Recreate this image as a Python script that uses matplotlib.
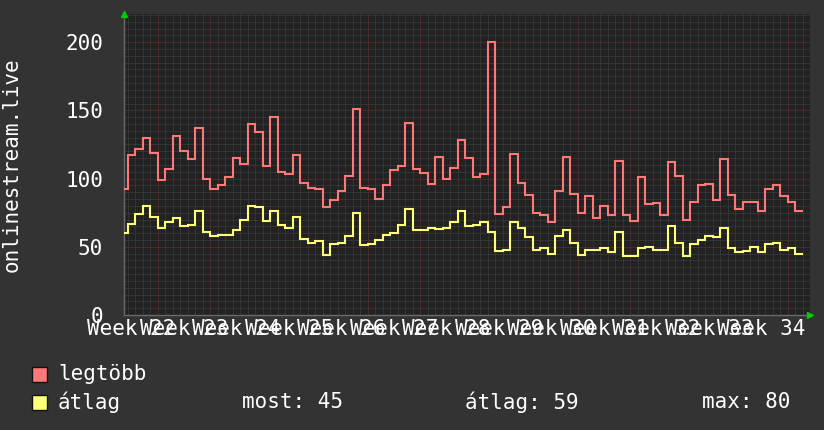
import numpy as np
import matplotlib
matplotlib.use('Agg')
import matplotlib.pyplot as plt
from matplotlib.patches import Rectangle

# daily values (week 22 .. week 34)
legtobb = [92, 117, 122, 130, 119, 99, 107, 131, 120, 114,
           137, 100, 92, 95, 101, 115, 111, 140, 134, 109,
           145, 105, 103, 117, 97, 93, 92, 79, 84, 91,
           102, 151, 93, 92, 85, 95, 106, 109, 141, 107,
           104, 96, 116, 100, 108, 128, 115, 101, 103, 200,
           74, 79, 118, 97, 88, 75, 73, 68, 91, 116,
           89, 75, 87, 71, 80, 73, 113, 73, 69, 101,
           81, 82, 73, 112, 102, 70, 83, 95, 96, 84,
           114, 88, 78, 83, 83, 76, 92, 95, 87, 83, 76]
atlag = [60, 67, 74, 80, 72, 64, 68, 71, 65, 66,
         76, 61, 58, 59, 59, 62, 70, 80, 79, 69,
         76, 66, 64, 72, 56, 53, 54, 44, 52, 53,
         58, 75, 51, 52, 55, 59, 60, 66, 78, 62,
         62, 64, 63, 64, 68, 76, 65, 66, 68, 61,
         47, 48, 68, 64, 57, 48, 49, 45, 58, 62,
         53, 44, 48, 48, 49, 46, 61, 43, 43, 49,
         50, 48, 48, 65, 53, 43, 52, 55, 58, 57,
         64, 49, 46, 47, 50, 46, 52, 53, 48, 49, 45]
week_labels = ['Week %d' % w for w in range(22, 35)]
y_ticks = [0, 50, 100, 150, 200]
legend_stats = ['most: 45', 'átlag: 59', 'max: 80']

BG = '#333333'
CANVAS = '#222222'
RED = '#ff7777'
YEL = '#ffff77'
FONT = 'DejaVu Sans Mono'
FS = 15

fig = plt.figure(figsize=(8.24, 4.30), dpi=100, facecolor=BG)
W, H = 824.0, 430.0
ax = fig.add_axes([124 / W, (H - 315) / H, 686 / W, (315 - 13.5) / H])
ax.set_facecolor(CANVAS)

# x in days counted from start of week 22
edges = np.concatenate([[2.5], np.arange(3, 94)])
ax.set_xlim(2.5, 94.0)
ax.set_ylim(0, 221)

# grid: minor every day / 5 units, major every week / 50 units
for d in np.arange(3, 94):
    if d % 7 != 0:
        ax.axvline(d, color='#444444', lw=0.72, ls=(0, (1, 1)), zorder=1)
for d in np.arange(7, 94, 7):
    ax.axvline(d, color='#703232', lw=0.72, ls=(0, (1, 1)), zorder=1)
for v in np.arange(5, 221, 5):
    if v % 50 != 0:
        ax.axhline(v, color='#444444', lw=0.72, ls=(0, (1, 1)), zorder=1)
for v in y_ticks[1:]:
    ax.axhline(v, color='#703232', lw=0.72, ls=(0, (1, 1)), zorder=1)

ax.stairs(legtobb, edges, baseline=None, color=RED, lw=1.5, zorder=3)
ax.stairs(atlag, edges, baseline=None, color=YEL, lw=1.5, zorder=3)

ax.set_yticks(y_ticks)
ax.set_yticklabels([str(v) for v in y_ticks], fontfamily=FONT, fontsize=FS, color='white')
ax.set_xticks(3.5 + 7 * np.arange(len(week_labels)))
ax.set_xticklabels(week_labels, fontfamily=FONT, fontsize=FS, color='white')
ax.tick_params(axis='y', length=0, pad=15)
ax.tick_params(axis='x', length=0, pad=3)

for s in ['top', 'right']:
    ax.spines[s].set_visible(False)
for s in ['left', 'bottom']:
    ax.spines[s].set_color('#6a6a6a')
    ax.spines[s].set_linewidth(1)

# green arrow heads at the axis ends
ax.plot([2.5], [221], marker='^', color='#00cc00', ms=5, clip_on=False, zorder=5)
ax.plot([94.0], [0], marker='>', color='#00cc00', ms=5, clip_on=False, zorder=5)

fig.text(12 / W, 1 - 165 / H, 'onlinestream.live', rotation=90, ha='center', va='center',
         fontfamily=FONT, fontsize=FS, color='white')

# legend
for yy, col, name in [(374, RED, 'legtöbb'), (402, YEL, 'átlag')]:
    fig.patches.append(Rectangle((32 / W, 1 - (yy + 8) / H), 15 / W, 15 / H,
                                 transform=fig.transFigure, facecolor=col,
                                 edgecolor='#111111', lw=1))
    fig.text(58 / W, 1 - yy / H, name, ha='left', va='center',
             fontfamily=FONT, fontsize=FS, color='white')
for xx, txt in zip([242, 465, 702], legend_stats):
    fig.text(xx / W, 1 - 402 / H, txt, ha='left', va='center',
             fontfamily=FONT, fontsize=FS, color='white')

fig.savefig('out.png', dpi=100, facecolor=BG)
